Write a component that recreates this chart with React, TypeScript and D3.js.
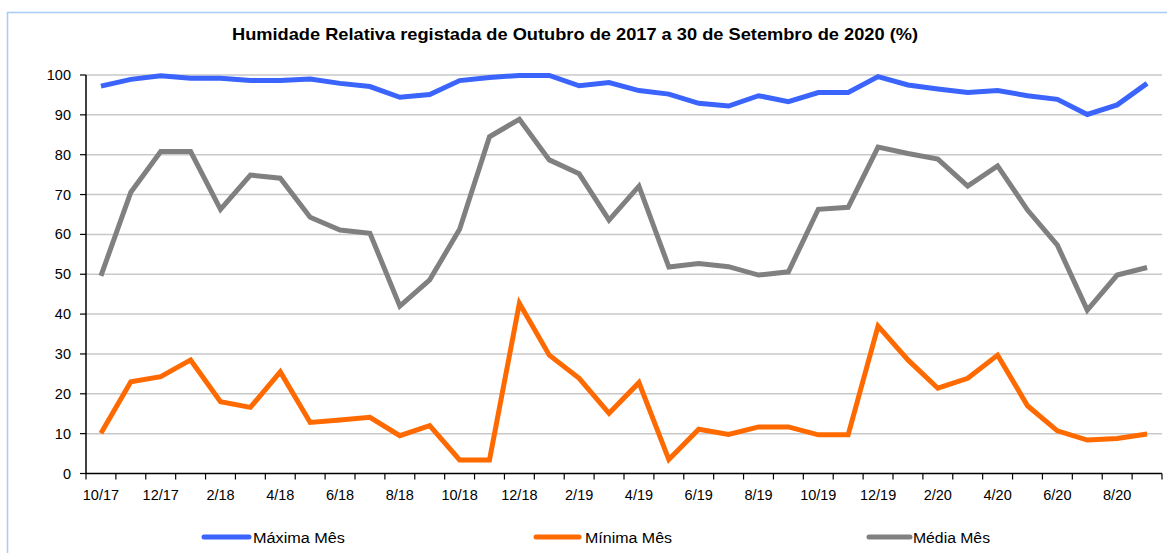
import React from "react";
import * as d3 from "d3";

const months = [
  "10/17","11/17","12/17","1/18","2/18","3/18","4/18","5/18","6/18","7/18","8/18","9/18",
  "10/18","11/18","12/18","1/19","2/19","3/19","4/19","5/19","6/19","7/19","8/19","9/19",
  "10/19","11/19","12/19","1/20","2/20","3/20","4/20","5/20","6/20","7/20","8/20","9/20",
];

const maxima = [
  97.2, 98.9, 99.8, 99.2, 99.2, 98.6, 98.6, 99.0, 97.9, 97.1, 94.4, 95.1,
  98.6, 99.4, 99.9, 99.9, 97.3, 98.1, 96.1, 95.2, 92.9, 92.2, 94.8, 93.3,
  95.6, 95.6, 99.6, 97.5, 96.5, 95.6, 96.1, 94.8, 93.9, 90.1, 92.5, 97.9,
];

const minima = [
  10.1, 23.0, 24.3, 28.5, 18.0, 16.6, 25.5, 12.8, 13.4, 14.1, 9.5, 12.0,
  3.4, 3.4, 42.7, 29.7, 23.9, 15.1, 22.8, 3.5, 11.1, 9.8, 11.7, 11.7,
  9.7, 9.7, 37.0, 28.5, 21.4, 23.9, 29.7, 17.0, 10.7, 8.4, 8.8, 9.9,
];

const media = [
  49.6, 70.6, 80.8, 80.8, 66.3, 74.9, 74.1, 64.3, 61.1, 60.3, 42.0, 48.6,
  61.3, 84.5, 88.9, 78.7, 75.2, 63.6, 72.1, 51.8, 52.7, 51.9, 49.8, 50.6,
  66.3, 66.8, 81.9, 80.3, 78.9, 72.1, 77.2, 66.1, 57.3, 41.0, 49.8, 51.7,
];

const yTicks = [0, 10, 20, 30, 40, 50, 60, 70, 80, 90, 100];

const seriesList = [
  { name: "Máxima Mês", values: maxima, color: "#3a64fb" },
  { name: "Mínima Mês", values: minima, color: "#ff6a00" },
  { name: "Média Mês", values: media, color: "#808080" },
];

const title = "Humidade Relativa  registada de Outubro de 2017 a 30 de Setembro de 2020 (%)";

export default function App() {
  const W = 1167, H = 553;
  const left = 86, right = 1162, top = 75, bottom = 473.5;
  const x = d3.scaleBand<string>().domain(months).range([left, right]).padding(0);
  const y = d3.scaleLinear().domain([0, 100]).range([bottom, top]);
  const cx = (i: number) => (x(months[i]) as number) + x.bandwidth() / 2;
  const line = (vals: number[]) =>
    d3.line<number>().x((_, i) => cx(i)).y((v) => y(v))(vals) as string;

  const font = "'Liberation Sans', Arial, sans-serif";
  const legendPos = [
    { x1: 204, x2: 249, tx: 253, tl: 92 },
    { x1: 536, x2: 579, tx: 585, tl: 87 },
    { x1: 869, x2: 910, tx: 913, tl: 77 },
  ];

  return (
    <svg width={W} height={H} style={{ position: "absolute", left: 0, top: 0, background: "#fff" }} fontFamily={font}>
      <rect x={0} y={0} width={W} height={H} fill="#fff" />
      <path d={`M7.5,${H} L7.5,12.5 L${W},12.5`} fill="none" stroke="#a8ccf4" strokeWidth={1.5} />
      <text x={232} y={40} fontSize={17} fontWeight="bold" fill="#000" textLength={686} lengthAdjust="spacingAndGlyphs">
        {title}
      </text>
      {yTicks.map((t) => (
        <g key={t}>
          {t > 0 && (
            <line x1={left} x2={right} y1={y(t)} y2={y(t)} stroke="#c8c8c8" strokeWidth={1.5} />
          )}
          <line x1={left - 6} x2={left} y1={y(t)} y2={y(t)} stroke="#000" strokeWidth={1.2} />
          <text x={71} y={y(t) + 5} textAnchor="end" fontSize={14.5} fill="#000">
            {t}
          </text>
        </g>
      ))}
      <line x1={left} x2={left} y1={top} y2={bottom} stroke="#000" strokeWidth={1.5} />
      <line x1={left} x2={right} y1={bottom} y2={bottom} stroke="#000" strokeWidth={1.5} />
      {months.map((m) => (
        <line key={"t" + m} x1={x(m) as number} x2={x(m) as number} y1={bottom} y2={bottom + 6} stroke="#000" strokeWidth={1.2} />
      ))}
      <line x1={right} x2={right} y1={bottom} y2={bottom + 6} stroke="#000" strokeWidth={1.2} />
      {months.map((m, i) =>
        i % 2 === 0 ? (
          <text key={"l" + m} x={cx(i)} y={500} textAnchor="middle" fontSize={14.5} fill="#000">
            {m}
          </text>
        ) : null
      )}
      {seriesList.map((s) => (
        <path key={s.name} d={line(s.values)} fill="none" stroke={s.color} strokeWidth={5} strokeLinejoin="miter" />
      ))}
      {seriesList.map((s, i) => (
        <g key={"lg" + s.name}>
          <line x1={legendPos[i].x1} x2={legendPos[i].x2} y1={537} y2={537} stroke={s.color} strokeWidth={5} strokeLinecap="round" />
          <text x={legendPos[i].tx} y={543} fontSize={14} fill="#000" textLength={legendPos[i].tl} lengthAdjust="spacingAndGlyphs">
            {s.name}
          </text>
        </g>
      ))}
    </svg>
  );
}
